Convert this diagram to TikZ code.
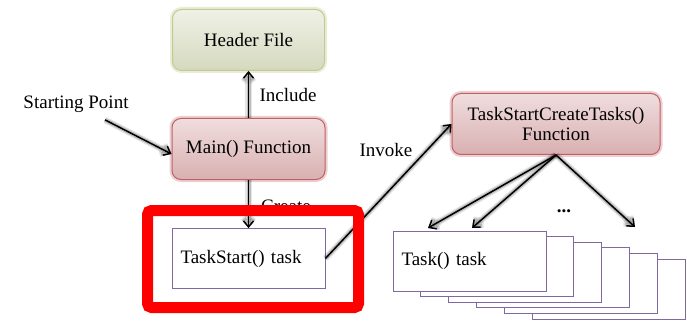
\documentclass[tikz,border=0pt]{standalone}
\usepackage{fontspec}
\setmainfont{Liberation Serif}
\usetikzlibrary{arrows.meta}
\definecolor{hdrtop}{RGB}{240,241,231}
\definecolor{hdrbot}{RGB}{213,217,190}
\definecolor{hdrline}{RGB}{196,201,143}
\definecolor{fntop}{RGB}{240,221,222}
\definecolor{fnbot}{RGB}{217,176,177}
\definecolor{fnline}{RGB}{192,96,100}
\definecolor{tareacol}{RGB}{128,104,160}
\begin{document}
\begin{tikzpicture}[x=1pt,y=-1pt,font=\fontsize{19}{22}\selectfont,
    flecha/.style={-{Straight Barb[length=6pt,width=10pt]}, line width=1.5pt,
        preaction={draw=black, opacity=0.1, line width=6.5pt},
        preaction={draw=black, opacity=0.18, line width=4pt}},
    caja/.style={rounded corners=9pt, line width=1pt, minimum height=61pt,
        align=center, inner sep=2pt},
    verde/.style={caja, draw=hdrline, top color=hdrtop, bottom color=hdrbot,
        preaction={draw=hdrline, opacity=0.35, line width=5pt}},
    rojo/.style={caja, draw=fnline, top color=fntop, bottom color=fnbot,
        preaction={draw=fnline, opacity=0.3, line width=5pt}},
    tarea/.style={draw=tareacol, fill=white, line width=0.8pt, minimum width=153pt,
        minimum height=60pt, text width=136pt, inner sep=8.5pt, align=left}]
    \useasboundingbox (0,0) rectangle (687,323);

    % Lado izquierdo
    \node[verde, minimum width=152pt] (header) at (248.5,40) {Header File};
    \node[rojo, minimum width=153pt] (main) at (248.5,149) {Main() Function};
    \node[tarea] (taskstart) at (248.5,258.5) {TaskStart() task};
    \node (start) at (76,104) {Starting Point};
    \node (include) at (288,95) {Include};
    \node (create) at (286,206) {Create};
    \draw[flecha] ([xshift=29pt,yshift=-4pt]start.south) -- ([yshift=-5pt]main.west);
    \draw[flecha] (main.north) -- (header.south);
    \draw[flecha] (main.south) -- (taskstart.north);

    % Lado derecho
    \node[rojo, minimum width=208pt] (tsct) at (556,124) {TaskStartCreateTasks()\\[-2pt]Function};
    \foreach \k in {5,4,...,1}
        \node[tarea] (task\k) at ({469.5+27.8*\k},{261+5.6*\k}) {};
    \node[tarea] (task0) at (469.5,261) {Task() task};
    \node (invoke) at (386,150) {Invoke};
    \node (dots) at (564,211) {\textbf{...}};
    \coordinate (t1) at (428,228);
    \coordinate (t2) at (472,228);
    \coordinate (t3) at (635,227);
    \draw[flecha] (taskstart.east) -- (tsct.west);
    \foreach \t in {t1,t2,t3}
        \draw[flecha] (tsct.south) -- (\t);

    % Marco rojo
    \draw[red, line width=11pt, rounded corners=4pt] (147.5,210.5) rectangle (358.5,307.5);
\end{tikzpicture}
\end{document}
